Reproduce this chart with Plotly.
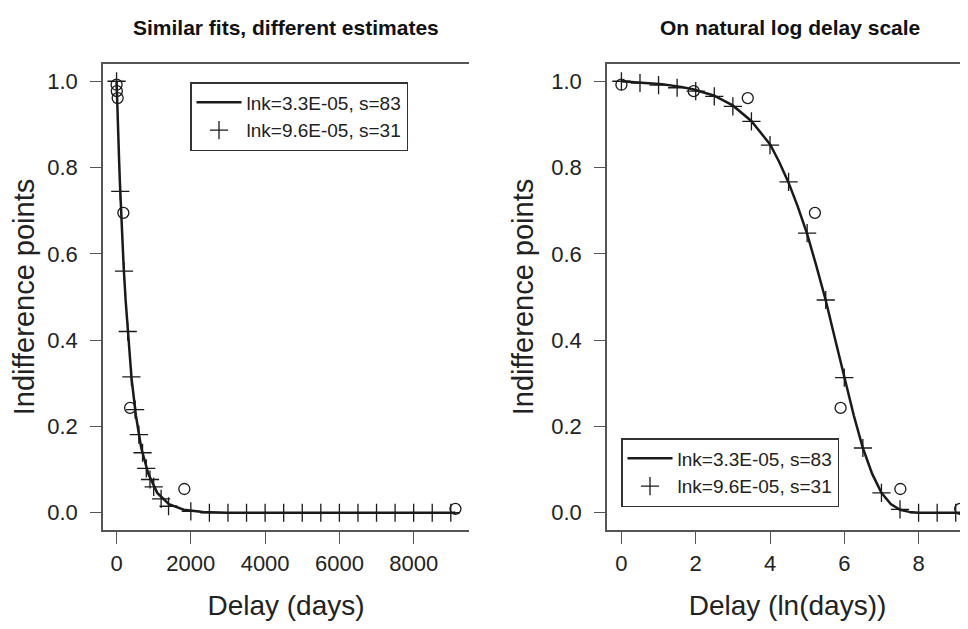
import numpy as np
import plotly.graph_objects as go
from plotly.subplots import make_subplots

# observed indifference points (circles)
delay_days = [1, 7, 30, 183, 365, 1825, 9125]
indiff = [0.992, 0.977, 0.961, 0.695, 0.243, 0.055, 0.009]

# fitted curve, lnk=3.3E-05, s=83
curve_days = [1, 2, 3, 5, 7, 12, 20, 33, 55, 70, 90, 115, 148, 190, 245,
              315, 403, 520, 665, 855, 1097, 1410, 1808, 2320, 2981, 4915, 9125]
curve_val = [1.0, 0.996, 0.993, 0.987, 0.981, 0.967, 0.944, 0.908, 0.853, 0.813,
             0.765, 0.71, 0.647, 0.572, 0.492, 0.402, 0.312, 0.226, 0.150, 0.090,
             0.046, 0.020, 0.007, 0.002, 0.0, 0.0, 0.0]

# second fit, lnk=9.6E-05, s=31, on linear delays (left panel)
plus_days = [0, 100, 200, 300, 400, 500, 600, 700, 800, 900, 1000, 1200, 1400,
             2000, 2500, 3000, 3500, 4000, 4500, 5000, 5500, 6000, 6500, 7000,
             7500, 8000, 8500, 9000]
plus_days_val = [1.0, 0.745, 0.56, 0.42, 0.315, 0.239, 0.181, 0.139, 0.103, 0.077,
                 0.060, 0.032, 0.015, 0.003, 0.0, 0.0, 0.0, 0.0, 0.0, 0.0, 0.0,
                 0.0, 0.0, 0.0, 0.0, 0.0, 0.0, 0.0]

# second fit on ln(delay) grid (right panel)
plus_ln = [0, 0.5, 1.0, 1.5, 2.0, 2.5, 3.0, 3.5, 4.0, 4.5, 5.0, 5.5, 6.0, 6.5,
           7.0, 7.5, 8.0, 8.5, 9.0]
plus_ln_val = [1.0, 0.996, 0.991, 0.985, 0.977, 0.965, 0.942, 0.907, 0.852, 0.767,
               0.648, 0.493, 0.313, 0.150, 0.046, 0.008, 0.0, 0.0, 0.0]

label1 = "lnk=3.3E-05, s=83"
label2 = "lnk=9.6E-05, s=31"

INK = "#1a1a1a"
FRAME = "#555555"
FONT = "Liberation Sans, Arial, Helvetica, sans-serif"

fig = make_subplots(rows=1, cols=2)

# left panel
fig.add_trace(go.Scatter(x=curve_days, y=curve_val, mode="lines", name=label1,
                         line=dict(color=INK, width=2.5), legend="legend"), 1, 1)
fig.add_trace(go.Scatter(x=plus_days, y=plus_days_val, mode="markers", name=label2,
                         marker=dict(symbol="cross-thin", size=13, line=dict(color=INK, width=1.3)),
                         legend="legend"), 1, 1)
fig.add_trace(go.Scatter(x=delay_days, y=indiff, mode="markers", showlegend=False,
                         marker=dict(symbol="circle-open", size=11, color=INK, line=dict(width=1.3))), 1, 1)

# right panel, natural log delay
fig.add_trace(go.Scatter(x=np.log(curve_days), y=curve_val, mode="lines", name=label1,
                         line=dict(color=INK, width=2.5), legend="legend2"), 1, 2)
fig.add_trace(go.Scatter(x=plus_ln, y=plus_ln_val, mode="markers", name=label2,
                         marker=dict(symbol="cross-thin", size=13, line=dict(color=INK, width=1.3)),
                         legend="legend2"), 1, 2)
fig.add_trace(go.Scatter(x=np.log(delay_days), y=indiff, mode="markers", showlegend=False,
                         cliponaxis=False,
                         marker=dict(symbol="circle-open", size=11, color=INK, line=dict(width=1.3))), 1, 2)

# the page body has an 8px margin, so the figure is drawn smaller (no scrollbars)
# and the positions below are given in window pixels
OFF = 8
W, H = 968 - OFF, 629 - 2 * OFF
ML, MR, MT = 103 - OFF, 0, 64 - OFF
MB = H - (530 - OFF)
pw = W - ML - MR
ph = H - MT - MB

def px_x(p):
    return (p - OFF - ML) / pw

def px_y(p):
    return (H - MB - (p - OFF)) / ph

axis_common = dict(showgrid=False, zeroline=False, showline=True, linecolor=FRAME, linewidth=1.5,
                   ticks="outside", tickcolor=FRAME, tickwidth=1.3)

fig.update_xaxes(**axis_common, mirror=True, ticklen=12, ticklabelstandoff=1,
                 tickfont=dict(size=22, color="#222"),
                 title=dict(font=dict(size=28, color="#222"), standoff=24))
fig.update_yaxes(**axis_common, mirror=False, ticklen=11, ticklabelstandoff=8,
                 range=[-0.04, 1.04], tickvals=[0, 0.2, 0.4, 0.6, 0.8, 1.0], tickformat=".1f",
                 tickfont=dict(size=22, color="#222"),
                 title=dict(text="Indifference points", font=dict(size=29, color="#222"), standoff=9))

fig.update_layout(
    xaxis=dict(domain=[0, px_x(469)], range=[-365, 9490], tickvals=[0, 2000, 4000, 6000, 8000],
               title_text="Delay (days)"),
    xaxis2=dict(domain=[px_x(607), 1.0], range=[-0.388, 9.33], tickvals=[0, 2, 4, 6, 8],
                title_text="Delay (ln(days))"),
    width=W, height=H,
    margin=dict(l=ML, r=MR, t=MT, b=MB, autoexpand=False),
    paper_bgcolor="white", plot_bgcolor="white",
    font=dict(family=FONT, color="#222"),
    showlegend=True,
    legend=dict(x=px_x(190), y=px_y(82), xanchor="left", yanchor="top",
                bordercolor="#333", borderwidth=1.5, bgcolor="white",
                font=dict(size=19, color="#222"), itemwidth=45, tracegroupgap=0),
    legend2=dict(x=px_x(621), y=px_y(438), xanchor="left", yanchor="top",
                 bordercolor="#333", borderwidth=1.5, bgcolor="white",
                 font=dict(size=19, color="#222"), itemwidth=45, tracegroupgap=0),
)
fig.update_yaxes(domain=[0, 1])

titles = ["Similar fits, different estimates", "On natural log delay scale"]
centers = [(103 + 469) / 2, (607 + 973) / 2]
for t, cx in zip(titles, centers):
    fig.add_annotation(text="<b>%s</b>" % t, x=px_x(cx), y=px_y(27), xref="paper", yref="paper",
                       xanchor="center", yanchor="middle", showarrow=False,
                       font=dict(size=21, color="#111"))

fig.write_html("out.html")
